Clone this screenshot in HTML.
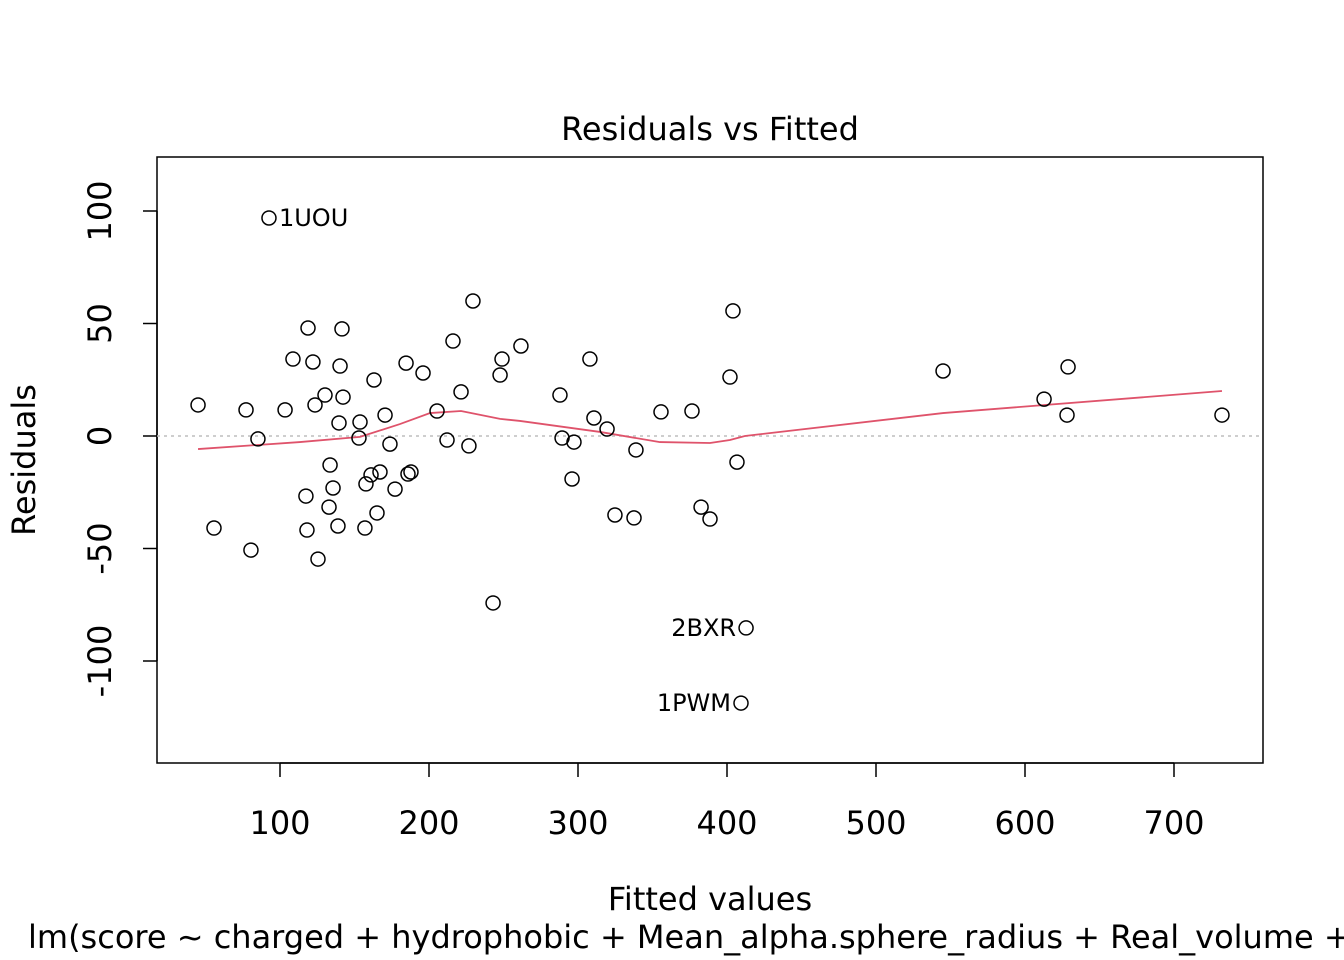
<!DOCTYPE html>
<html><head><meta charset="utf-8"><style>
html,body{margin:0;padding:0;background:#fff;overflow:hidden;}
svg{display:block;font-family:"DejaVu Sans","Liberation Sans",sans-serif;}
</style></head><body>
<svg id="chart" width="1344" height="960" viewBox="0 0 1344 960" xmlns="http://www.w3.org/2000/svg">
<text x="710" y="140" font-size="32" text-anchor="middle">Residuals vs Fitted</text>
<rect x="157" y="157" width="1106" height="606" fill="none" stroke="#000" stroke-width="1.5"/>
<g id="xaxis"></g>
<g id="yaxis"></g>
<line id="zero" stroke="#bebebe" stroke-width="1.5" stroke-dasharray="3,4"/>
<polyline id="smooth" fill="none" stroke="#df536b" stroke-width="1.8"/>
<g id="points"></g>
<g id="labels"></g>
<text x="710" y="910" font-size="32" text-anchor="middle">Fitted values</text>
<text x="28" y="948" font-size="32">lm(score ~ charged + hydrophobic + Mean_alpha.sphere_radius + Real_volume +</text>
<text transform="translate(35,460) rotate(-90)" font-size="32" text-anchor="middle">Residuals</text>
</svg>
<script>
const fitted=[45,55.7,77.2,80.5,85.2,103.4,108.7,117.4,118.1,118.8,122.1,123.5,125.5,130.2,132.9,133.6,135.6,138.9,139.6,140.3,141.6,142.3,153,153.7,157,157.7,161.1,163.1,165.1,167.1,170.5,173.8,177.2,184.6,185.9,187.9,196,205.4,212.1,216.1,221.5,226.8,229.5,243,247.7,249,261.7,287.9,289.3,296,297.3,308,310.7,319.5,324.8,337.6,338.9,355.7,376.5,382.6,388.6,402,404,406.7,412.8,409.4,545,612.8,628.9,628.2,732.2,92.6];
const residuals=[13.8,-40.9,11.6,-50.7,-1.3,11.6,34.2,-26.7,-41.8,48,32.9,13.8,-54.7,18.2,-31.6,-12.9,-23.1,-40,5.8,31.1,47.6,17.3,-0.9,6.2,-40.9,-21.3,-17.3,24.9,-34.2,-16,9.3,-3.6,-23.6,32.4,-16.9,-16,28,11.1,-1.8,42.2,19.6,-4.4,60,-74.2,27.1,34.2,40,18.2,-0.9,-19.1,-2.7,34.2,8,3.1,-35.1,-36.4,-6.2,10.7,11.1,-31.6,-36.9,26.2,55.6,-11.6,-85.3,-118.7,28.9,16.4,30.7,9.3,9.3,96.9];
const smoothX=[45,113.4,153.7,180.5,200.7,221.5,247.7,261.1,314.8,355,388.6,402,412,545,732.2];
const smoothY=[-5.8,-2.7,-0.4,5.3,10.2,11.1,7.6,6.7,1.8,-2.7,-3.1,-1.8,0,10.2,20];
const xTicks=[100,200,300,400,500,600,700];
const yTicks=[-100,-50,0,50,100];
const labelNames=["1UOU","2BXR","1PWM"];
const labelIdx=[71,64,65];
const labelSide=["right","left","left"];
const NS="http://www.w3.org/2000/svg";
const xs=v=>280+(v-100)*1.49;
const ys=v=>436-v*2.25;
function mk(tag,attrs,parent){const e=document.createElementNS(NS,tag);for(const k in attrs)e.setAttribute(k,attrs[k]);parent.appendChild(e);return e;}
const xa=document.getElementById('xaxis');
mk('line',{x1:xs(100),x2:xs(700),y1:763,y2:763,stroke:'#000','stroke-width':1.5},xa);
xTicks.forEach(t=>{
 const l=mk('line',{x1:xs(t),x2:xs(t),y1:763,y2:777,stroke:'#000','stroke-width':1.5},xa);
 
 
 const tx=mk('text',{x:xs(t),y:834,'font-size':32,'text-anchor':'middle'},xa);
 
 
 tx.textContent=t;
});
const ya=document.getElementById('yaxis');
mk('line',{x1:157,x2:157,y1:ys(-100),y2:ys(100),stroke:'#000','stroke-width':1.5},ya);
yTicks.forEach(t=>{
 const l=mk('line',{x1:143,x2:157,y1:ys(t),y2:ys(t),stroke:'#000','stroke-width':1.5},ya);
 
 
 const tx=mk('text',{transform:`translate(111,${ys(t)}) rotate(-90)`,'font-size':32,'text-anchor':'middle'},ya);
 
 
 tx.textContent=t;
});
const z=document.getElementById('zero');
z.setAttribute('x1',157);z.setAttribute('x2',1263);z.setAttribute('y1',ys(0));z.setAttribute('y2',ys(0));
document.getElementById('smooth').setAttribute('points',smoothX.map((v,i)=>xs(v)+','+ys(smoothY[i])).join(' '));
const pg=document.getElementById('points');
fitted.forEach((v,i)=>{
 const c=mk('circle',{cx:xs(v),cy:ys(residuals[i]),r:7,fill:'none',stroke:'#000','stroke-width':1.5},pg);
 
 
});
const lg=document.getElementById('labels');
labelNames.forEach((n,j)=>{
 const i=labelIdx[j];const r=labelSide[j]==='right';
 const t=mk('text',{x:xs(fitted[i])+(r?10:-10),y:ys(residuals[i])+8,'font-size':24,'text-anchor':r?'start':'end'},lg);
 
 
 t.textContent=n;
});
</script>
</body></html>
